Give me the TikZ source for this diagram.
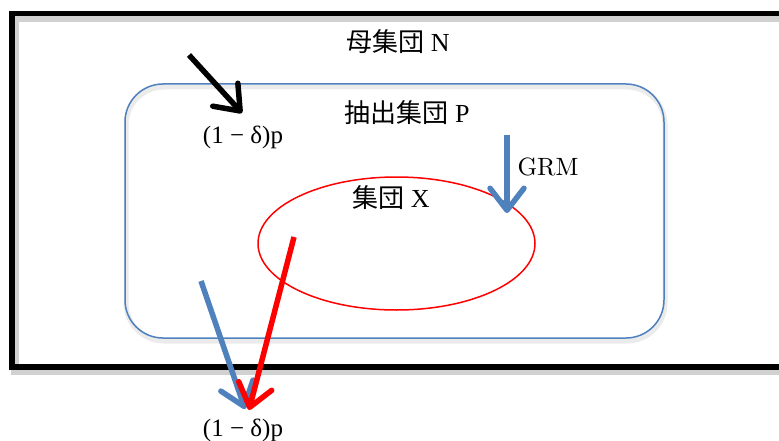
\documentclass[tikz,border=0pt]{standalone}
\usepackage{fontspec}
\setmainfont{Liberation Serif}
\newfontfamily\cjk{Noto Sans CJK JP}
\newfontfamily\cmfont{lmroman10-regular.otf}
\usetikzlibrary{arrows.meta}
\definecolor{ofblue}{RGB}{79,129,189}
\definecolor{ofred}{RGB}{255,0,0}
\tikzset{
  lbl/.style={inner sep=0pt, font=\fontsize{25}{27}\selectfont},
  bigarrow/.style={line width=5.5pt, -{Straight Barb[length=22pt, width=34pt, line width=5.5pt, round]}},
}
\begin{document}
\begin{tikzpicture}[x=1pt, y=-1pt]
\useasboundingbox (0,0) rectangle (779,441);
\clip (0,0) rectangle (779,441);
% outer frame (open to the right)
\draw[line width=8pt, black!18] (15,18) rectangle (810,371);
\draw[line width=5.5pt, black] (12,13.5) rectangle (810,367);
% sample set P
\draw[line width=5pt, black!8, rounded corners=38pt] (126,87) rectangle (665,341);
\draw[line width=1.5pt, ofblue, rounded corners=38pt] (125,84) rectangle (664,338);
% set X
\draw[line width=1.5pt, ofred] (396.5,243.5) ellipse [x radius=138.5, y radius=66.5];
% labels
\node[lbl, font=\fontsize{26}{28}\selectfont] (N) at (398,42) {{\cjk 母集団} N};
\node[lbl, font=\fontsize{26}{28}\selectfont] (P) at (407,113) {{\cjk 抽出集団} P};
\node[lbl, font=\fontsize{26}{28}\selectfont] (X) at (391,198) {{\cjk 集団} X};
\node[lbl, font=\cmfont\fontsize{25}{27}\selectfont] (grm) at (548,167) {GRM};
\node[lbl] (d1) at (243,137) {(1 − δ)p};
\node[lbl] (d2) at (243,430) {(1 − δ)p};
% arrow end points
\coordinate (a1s) at (189,55);
\coordinate (a1e) at (242,113);
\coordinate (gs) at (507,135);
\coordinate (ge) at (507,213);
\coordinate (bs) at (201,281);
\coordinate (be) at (245,409);
\coordinate (rs) at (294,237);
\coordinate (re) at (249,410);
% arrows
\draw[bigarrow, black] (a1s) -- (a1e);
\draw[bigarrow, ofblue] (gs) -- (ge);
\draw[bigarrow, ofblue] (bs) -- (be);
\draw[bigarrow, ofred] (rs) -- (re);
\end{tikzpicture}
\end{document}
